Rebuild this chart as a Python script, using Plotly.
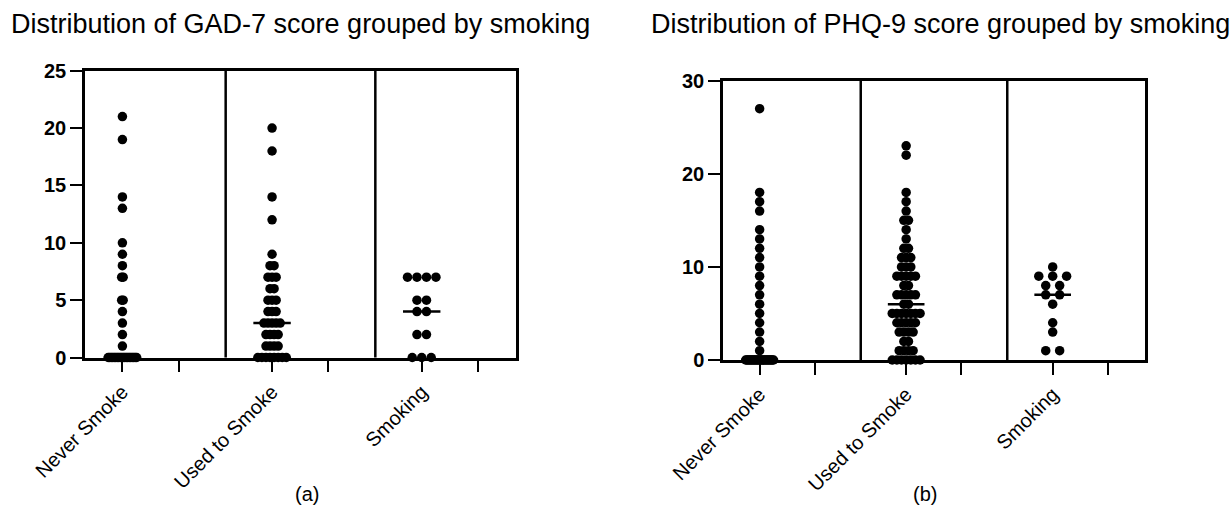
import numpy as np
import plotly.graph_objects as go

categories = ["Never Smoke", "Used to Smoke", "Smoking"]

# ---- GAD-7 (panel a): score values and number of participants at each score
gad_never_scores = [21, 19, 14, 13, 10, 9, 8, 7, 5, 4, 3, 2, 1, 0]
gad_never_counts = [1, 1, 1, 1, 1, 1, 1, 2, 2, 1, 1, 1, 1, 20]
gad_used_scores = [20, 18, 14, 12, 9, 8, 7, 6, 5, 4, 3, 2, 1, 0]
gad_used_counts = [1, 1, 1, 1, 1, 2, 3, 2, 3, 3, 5, 4, 4, 8]
gad_smoking_scores = [7, 5, 4, 2, 0]
gad_smoking_counts = [4, 2, 2, 2, 3]

# ---- PHQ-9 (panel b)
phq_never_scores = [27, 18, 17, 16, 14, 13, 12, 11, 10, 9, 8, 7, 6, 5, 4, 3, 2, 1, 0]
phq_never_counts = [1, 1, 1, 1, 1, 1, 1, 1, 1, 1, 1, 1, 1, 1, 1, 1, 1, 1, 25]
phq_used_scores = [23, 22, 18, 17, 16, 15, 14, 13, 12, 11, 10, 9, 8, 7, 6, 5, 4, 3, 2, 1, 0]
phq_used_counts = [1, 1, 1, 1, 1, 2, 1, 1, 2, 3, 3, 5, 2, 5, 2, 7, 5, 4, 2, 4, 7]
phq_smoking_scores = [10, 9, 8, 7, 6, 4, 3, 1]
phq_smoking_counts = [1, 3, 2, 2, 1, 1, 1, 2]

gad_y_ticks = [0, 5, 10, 15, 20, 25]
phq_y_ticks = [0, 10, 20, 30]

W, H = 1231, 509
SPAN = 0.19        # max horizontal spread of a row (data units)
HALF_LINE = 0.125  # half width of the median line

fig = go.Figure()


def add_group(pos, scores, counts, xa, ya):
    nmax = max(counts)
    step = SPAN / (nmax - 1) if nmax > 1 else 0
    xs, ys, allvals = [], [], []
    for s, c in zip(scores, counts):
        offs = (np.arange(c) - (c - 1) / 2.0) * step
        xs.extend(pos + offs)
        ys.extend([s] * c)
        allvals.extend([s] * c)
    fig.add_trace(go.Scatter(x=xs, y=ys, mode="markers", xaxis=xa, yaxis=ya,
                             marker=dict(size=9.5, color="black"), cliponaxis=False,
                             showlegend=False, hoverinfo="y"))
    med = float(np.median(allvals))
    fig.add_trace(go.Scatter(x=[pos - HALF_LINE, pos + HALF_LINE], y=[med, med],
                             mode="lines", xaxis=xa, yaxis=ya, cliponaxis=False,
                             line=dict(color="black", width=2.5), showlegend=False,
                             hoverinfo="skip"))


gad = [(gad_never_scores, gad_never_counts), (gad_used_scores, gad_used_counts),
       (gad_smoking_scores, gad_smoking_counts)]
phq = [(phq_never_scores, phq_never_counts), (phq_used_scores, phq_used_counts),
       (phq_smoking_scores, phq_smoking_counts)]

for i, (s, c) in enumerate(gad):
    add_group(i, s, c, "x", "y")
for i, (s, c) in enumerate(phq):
    add_group(i, s, c, "x2", "y2")

tickvals = []
ticktext = []
for i, name in enumerate(categories):
    tickvals += [i, i + 0.375]
    ticktext += [name, ""]

font_family = "Liberation Sans, Arial, sans-serif"

xcommon = dict(range=[-0.25, 2.63], tickvals=tickvals, ticktext=ticktext, tickangle=-45,
               showline=True, linecolor="black", linewidth=2.5, mirror=True,
               ticks="outside", ticklen=12, tickwidth=2, tickcolor="black",
               showgrid=False, zeroline=False, automargin=False,
               tickfont=dict(family=font_family, size=20, color="black"))
ycommon = dict(showline=True, linecolor="black", linewidth=2.5, mirror=True,
               ticks="outside", ticklen=12, tickwidth=2, tickcolor="black",
               showgrid=False, zeroline=False, automargin=False,
               tickfont=dict(family=font_family, size=20, color="black", weight="bold"))

fig.update_layout(
    width=W, height=H, autosize=False,
    margin=dict(l=0, r=0, t=0, b=0),
    paper_bgcolor="white", plot_bgcolor="white",
    xaxis=dict(domain=[85 / W, 516 / W], anchor="y", **xcommon),
    yaxis=dict(domain=[1 - 357.5 / H, 1 - 70.7 / H], anchor="x", range=[0, 25],
               tickvals=gad_y_ticks, **ycommon),
    xaxis2=dict(domain=[723 / W, 1145 / W], anchor="y2", **xcommon),
    yaxis2=dict(domain=[1 - 360 / H, 1 - 80.7 / H], anchor="x2", range=[0, 30],
                tickvals=phq_y_ticks, **ycommon),
)

shapes = []
for xr, yr in [("x", "y domain"), ("x2", "y2 domain")]:
    for xv in [0.69, 1.69]:
        shapes.append(dict(type="line", xref=xr, yref=yr, x0=xv, x1=xv, y0=0, y1=1,
                           line=dict(color="black", width=2.5), layer="below"))
fig.update_layout(shapes=shapes)

ann = [
    dict(text="Distribution of GAD-7 score grouped by smoking", x=9 / W, y=1 - 24 / H,
         xanchor="left", yanchor="middle", font=dict(size=27)),
    dict(text="Distribution of PHQ-9 score grouped by smoking", x=649 / W, y=1 - 24 / H,
         xanchor="left", yanchor="middle", font=dict(size=27)),
    dict(text="(a)", x=307 / W, y=1 - 494 / H, xanchor="center", yanchor="middle",
         font=dict(size=20)),
    dict(text="(b)", x=925 / W, y=1 - 494 / H, xanchor="center", yanchor="middle",
         font=dict(size=20)),
]
for a in ann:
    a.update(xref="paper", yref="paper", showarrow=False)
    a["font"].update(family=font_family, color="black")
fig.update_layout(annotations=ann)

fig.write_html("out.html", config={"displayModeBar": False},
               post_script="document.body.style.margin='0';document.body.style.overflow='hidden';")
